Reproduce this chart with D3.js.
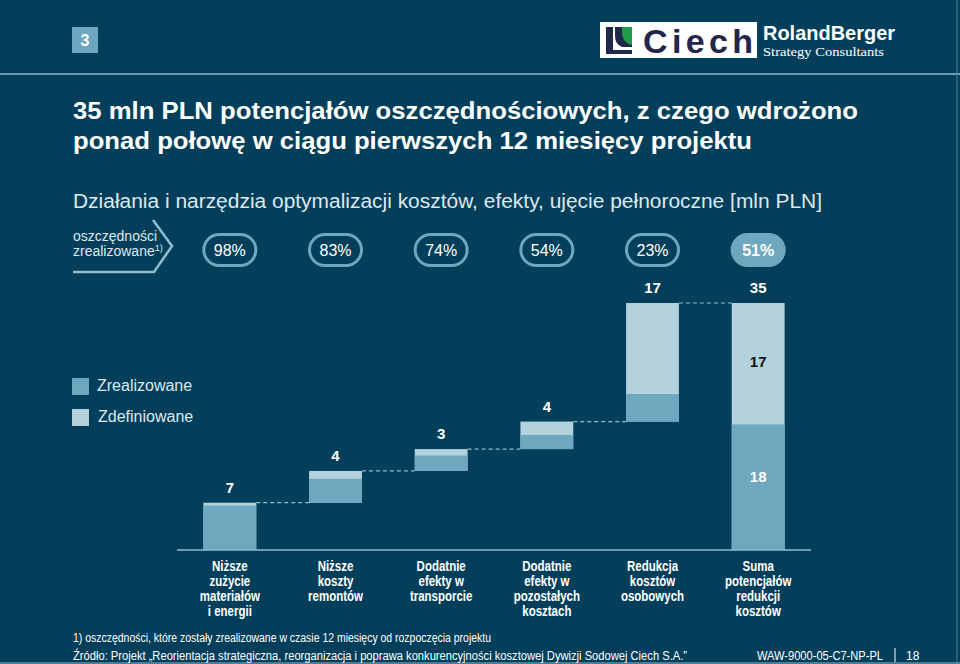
<!DOCTYPE html>
<html>
<head>
<meta charset="utf-8">
<script src="https://cdn.jsdelivr.net/npm/d3@7"></script>
<style>
  body { margin: 0; background: #033f5a; }
  svg { display: block; font-family: Arial, "Liberation Sans", sans-serif; }
</style>
</head>
<body>
<script>
// kategorie (etykiety osi, wiersze rozdzielone \n)
const categories = [
  "Niższe\nzużycie\nmateriałów\ni energii",
  "Niższe\nkoszty\nremontów",
  "Dodatnie\nefekty w\ntransporcie",
  "Dodatnie\nefekty w\npozostałych\nkosztach",
  "Redukcja\nkosztów\nosobowych",
  "Suma\npotencjałów\nredukcji\nkosztów"
];
// wartosci [mln PLN]
const zdefiniowane = [6.7, 4.5, 3.1, 3.9, 16.8];
const zrealizowane = [6.3, 3.4, 2.2, 2.0, 3.9];
const valueLabels = ["7", "4", "3", "4", "17", "35"];
const realizedPct = ["98%", "83%", "74%", "54%", "23%", "51%"];
const sumSplitLabels = ["17", "18"]; // zdefiniowane (gora), zrealizowane (dol)

const colors = {
  bg: "#033f5a",
  dark: "#6ea8bf",
  light: "#b4d2de",
  line: "#8fbdd0",
  text: "#ffffff",
  soft: "#dde8ee"
};

const w = 960;
const h = 664;

const svg = d3.select("body").append("svg")
  .attr("width", w)
  .attr("height", h);

svg.append("rect").attr("width", w).attr("height", h).attr("fill", colors.bg);

// --- naglowek ---
svg.append("line").attr("x1", 0).attr("x2", w).attr("y1", 74).attr("y2", 74)
  .attr("stroke", colors.line).attr("stroke-width", 1.5);
svg.append("line").attr("x1", 957).attr("x2", 957).attr("y1", 0).attr("y2", h)
  .attr("stroke", "#4f7f95").attr("stroke-width", 1);
svg.append("line").attr("x1", 0).attr("x2", w).attr("y1", 663).attr("y2", 663)
  .attr("stroke", colors.line).attr("stroke-width", 1);

svg.append("rect").attr("x", 72).attr("y", 27).attr("width", 26).attr("height", 26)
  .attr("fill", "#6fa6bf");
svg.append("text").attr("x", 85).attr("y", 46).attr("text-anchor", "middle")
  .attr("fill", colors.text).attr("font-weight", "bold").attr("font-size", 16).text("3");

// logo Ciech
const logo = svg.append("g");
logo.append("rect").attr("x", 600).attr("y", 22).attr("width", 157).attr("height", 36).attr("fill", "#fff");
logo.append("path").attr("d", "M606,27 L613,27 L613,50 L632,50 L632,54 L606,54 Z").attr("fill", "#1f2a4a");
logo.append("path").attr("d", "M615,27 L632,27 L632,47 L622,47 Q615,44 615,36 Z").attr("fill", "#1f2a4a");
logo.append("path").attr("d", "M622,27 L632,27 L632,45 Q623,43 622,34 Z").attr("fill", "#1e9a4a");
logo.append("text").attr("x", 643).attr("y", 53).attr("fill", "#23264a")
  .attr("font-weight", "bold").attr("font-size", 34).attr("textLength", 110).text("Ciech");

// logo Roland Berger
svg.append("text").attr("x", 763).attr("y", 40)
  .attr("fill", colors.text).attr("font-weight", "bold").attr("font-size", 21)
  .attr("textLength", 132).attr("lengthAdjust", "spacingAndGlyphs").text("RolandBerger");
svg.append("text").attr("x", 763).attr("y", 56)
  .attr("fill", colors.text).attr("font-family", "Liberation Serif, serif").attr("font-size", 12)
  .attr("textLength", 121).attr("lengthAdjust", "spacingAndGlyphs").text("Strategy Consultants");

// --- tytul ---
const title = svg.append("text").attr("fill", colors.text).attr("font-weight", "bold").attr("font-size", 24);
title.append("tspan").attr("x", 73).attr("y", 119).attr("textLength", 785).attr("lengthAdjust", "spacingAndGlyphs")
  .text("35 mln PLN potencjałów oszczędnościowych, z czego wdrożono");
title.append("tspan").attr("x", 73).attr("y", 149).attr("textLength", 679).attr("lengthAdjust", "spacingAndGlyphs")
  .text("ponad połowę w ciągu pierwszych 12 miesięcy projektu");

svg.append("text").attr("x", 73).attr("y", 208).attr("fill", colors.soft).attr("font-size", 20)
  .attr("textLength", 749).attr("lengthAdjust", "spacingAndGlyphs")
  .text("Działania i narzędzia optymalizacji kosztów, efekty, ujęcie pełnoroczne [mln PLN]");

// --- skale ---
const xScale = d3.scaleBand()
  .domain(d3.range(categories.length))
  .range([177, 811])
  .paddingInner(0.5)
  .paddingOuter(0.25);

const yScale = d3.scaleLinear()
  .domain([0, 35])
  .range([550, 303]);

// dane wodospadu
let cum = 0;
const bars = zdefiniowane.map((v, i) => {
  const d = { i: i, base: cum, top: cum + v, real: zrealizowane[i] };
  cum += v;
  return d;
});
bars.push({ i: zdefiniowane.length, base: 0, top: d3.sum(zdefiniowane), real: d3.sum(zrealizowane) });

// --- wiersz "oszczednosci zrealizowane" ---
svg.append("path").attr("d", "M73,272 L154,272 L172,246 L153,220")
  .attr("fill", "none").attr("stroke", colors.line).attr("stroke-width", 2.5);
const lbl = svg.append("text").attr("fill", colors.soft).attr("font-size", 14);
lbl.append("tspan").attr("x", 73).attr("y", 241).text("oszczędności");
lbl.append("tspan").attr("x", 73).attr("y", 256).text("zrealizowane");
lbl.append("tspan").attr("font-size", 9).attr("dy", -5).text("1)");

const pills = svg.selectAll("g.pill").data(realizedPct).enter().append("g").attr("class", "pill")
  .attr("transform", (d, i) => `translate(${xScale(i) + xScale.bandwidth() / 2},250)`);
pills.append("rect")
  .attr("x", -26).attr("y", -15.5).attr("width", 52).attr("height", 31).attr("rx", 15.5)
  .attr("fill", (d, i) => i === realizedPct.length - 1 ? colors.dark : "none")
  .attr("stroke", colors.dark).attr("stroke-width", 3);
pills.append("text").attr("y", 6).attr("text-anchor", "middle")
  .attr("fill", colors.text).attr("font-size", 16)
  .attr("font-weight", (d, i) => i === realizedPct.length - 1 ? "bold" : "normal")
  .text(d => d);

// --- legenda ---
svg.append("rect").attr("x", 72).attr("y", 378).attr("width", 17).attr("height", 17).attr("fill", colors.dark);
svg.append("text").attr("x", 97).attr("y", 391).attr("fill", colors.soft).attr("font-size", 16).text("Zrealizowane");
svg.append("rect").attr("x", 72).attr("y", 409).attr("width", 17).attr("height", 17).attr("fill", colors.light);
svg.append("text").attr("x", 98).attr("y", 422).attr("fill", colors.soft).attr("font-size", 16).text("Zdefiniowane");

// --- slupki ---
const g = svg.append("g");
g.selectAll("rect.light").data(bars).enter().append("rect").attr("class", "light")
  .attr("x", d => xScale(d.i)).attr("width", xScale.bandwidth())
  .attr("y", d => yScale(d.top)).attr("height", d => yScale(d.base) - yScale(d.top))
  .attr("fill", colors.light);
g.selectAll("rect.dark").data(bars).enter().append("rect").attr("class", "dark")
  .attr("x", d => xScale(d.i)).attr("width", xScale.bandwidth())
  .attr("y", d => yScale(d.base + d.real)).attr("height", d => yScale(d.base) - yScale(d.base + d.real))
  .attr("fill", colors.dark);

// linie laczace
g.selectAll("line.conn").data(bars.slice(0, -1)).enter().append("line").attr("class", "conn")
  .attr("x1", d => xScale(d.i) + xScale.bandwidth())
  .attr("x2", d => xScale(d.i + 1))
  .attr("y1", d => yScale(d.top)).attr("y2", d => yScale(d.top))
  .attr("stroke", colors.line).attr("stroke-width", 1.2).attr("stroke-dasharray", "4,3");

// os
g.append("line").attr("x1", 177).attr("x2", 811).attr("y1", yScale(0)).attr("y2", yScale(0))
  .attr("stroke", colors.line).attr("stroke-width", 1.5);

// etykiety wartosci
g.selectAll("text.val").data(bars).enter().append("text").attr("class", "val")
  .attr("x", d => xScale(d.i) + xScale.bandwidth() / 2)
  .attr("y", d => yScale(d.top) - 10)
  .attr("text-anchor", "middle").attr("fill", colors.text)
  .attr("font-weight", "bold").attr("font-size", 15)
  .text((d, i) => valueLabels[i]);

const sum = bars[bars.length - 1];
const cx = xScale(sum.i) + xScale.bandwidth() / 2;
g.append("text").attr("x", cx).attr("y", (yScale(sum.top) + yScale(sum.real)) / 2 + 3)
  .attr("text-anchor", "middle").attr("fill", "#111").attr("font-weight", "bold").attr("font-size", 15)
  .text(sumSplitLabels[0]);
g.append("text").attr("x", cx).attr("y", (yScale(sum.real) + yScale(0)) / 2 - 5)
  .attr("text-anchor", "middle").attr("fill", colors.text).attr("font-weight", "bold").attr("font-size", 15)
  .text(sumSplitLabels[1]);

// etykiety kategorii (waski krój: skalowanie w poziomie)
const catG = g.selectAll("g.cat").data(categories).enter().append("g").attr("class", "cat")
  .attr("transform", (d, i) => `translate(${xScale(i) + xScale.bandwidth() / 2},0) scale(0.82,1)`);
catG.append("text")
  .attr("text-anchor", "middle").attr("fill", colors.text)
  .attr("font-weight", "bold").attr("font-size", 14)
  .each(function (d) {
    const t = d3.select(this);
    d.split("\n").forEach((line, j) => {
      t.append("tspan").attr("x", 0).attr("y", 571 + j * 15).text(line);
    });
  });

// --- stopka ---
svg.append("text").attr("x", 73).attr("y", 642).attr("fill", colors.text).attr("font-size", 12)
  .attr("textLength", 418).attr("lengthAdjust", "spacingAndGlyphs")
  .text("1) oszczędności, które zostały zrealizowane w czasie 12 miesięcy od rozpoczęcia projektu");
svg.append("text").attr("x", 73).attr("y", 660).attr("fill", colors.text).attr("font-size", 12)
  .attr("textLength", 614).attr("lengthAdjust", "spacingAndGlyphs")
  .text("Źródło: Projekt „Reorientacja strategiczna, reorganizacja i poprawa konkurencyjności kosztowej Dywizji Sodowej Ciech S.A.”");
svg.append("text").attr("x", 757).attr("y", 660).attr("fill", colors.text).attr("font-size", 12)
  .attr("textLength", 126).attr("lengthAdjust", "spacingAndGlyphs")
  .text("WAW-9000-05-C7-NP-PL");
svg.append("line").attr("x1", 895).attr("x2", 895).attr("y1", 648).attr("y2", 662)
  .attr("stroke", colors.text).attr("stroke-width", 1);
svg.append("text").attr("x", 906).attr("y", 660).attr("fill", colors.text).attr("font-size", 12).text("18");
</script>
</body>
</html>
